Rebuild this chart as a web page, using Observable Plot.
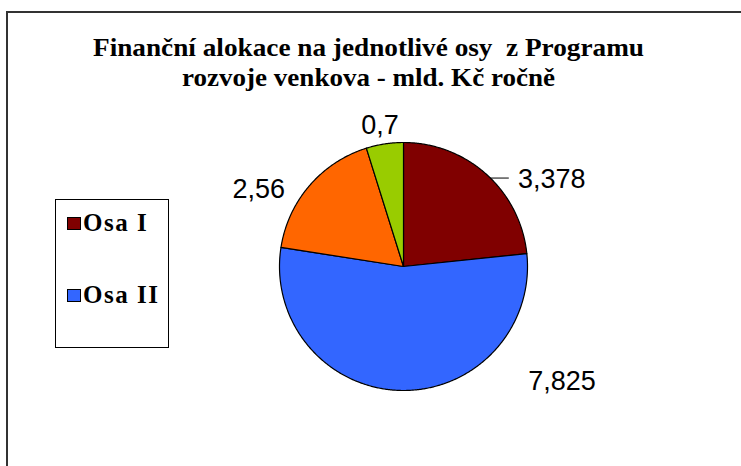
<!DOCTYPE html>
<html>
<head>
<meta charset="utf-8">
<script src="https://cdn.jsdelivr.net/npm/d3@7"></script>
<script src="https://cdn.jsdelivr.net/npm/@observablehq/plot@0.6"></script>
<style>
  html, body { margin: 0; padding: 0; background: #fff; overflow: hidden; }
  #wrap { position: relative; width: 741px; height: 466px; overflow: hidden; }
  #frame { position: absolute; left: 6px; top: 11px; width: 800px; height: 600px; border: 2px solid #333; box-sizing: border-box; }
  #chart { position: absolute; left: 0; top: 0; }
  #legend { position: absolute; left: 55px; top: 199px; width: 114px; height: 149px; border: 1.5px solid #000; box-sizing: border-box; background: #fff; }
  .item { position: absolute; left: 11px; display: flex; align-items: center; font-family: "Liberation Serif", "Times New Roman", serif; font-weight: bold; font-size: 25px; color: #000; letter-spacing: 1.5px; }
  .sw { width: 12px; height: 11px; border: 1px solid #000; margin-right: 2px; }
</style>
</head>
<body>
<div id="wrap">
  <div id="frame"></div>
  <div id="chart"></div>
  <div id="legend"></div>
</div>
<script>
// ---- data ----
const categories = ["Osa I", "Osa II", "Osa III", "Osa IV"];
const values = [3.378, 7.825, 2.56, 0.7];
const valueLabels = ["3,378", "7,825", "2,56", "0,7"];
const colors = ["#800000", "#3366FF", "#FF6600", "#99CC00"];
const legendShown = ["Osa I", "Osa II"];
const titleLines = ["Finanční alokace na jednotlivé osy  z Programu", "rozvoje venkova - mld. Kč ročně"];

// ---- layout ----
const W = 741, H = 466;
const cx = 403, cy = 266, R = 124;
const titleWidths = [551, 373];
// label placement (angle in degrees clockwise from top, distance from centre)
const labelPlace = [
  {angle: 59.5, dist: 172},
  {angle: 126, dist: 196},
  {angle: 298, dist: 164},
  {angle: 350.5, dist: 143}
];

const pie = d3.pie().sort(null).value(d => d)(values);
const pt = (deg, r) => ({x: cx + r * Math.sin(deg * Math.PI / 180), y: cy - r * Math.cos(deg * Math.PI / 180)});

const slices = pie.map((p, i) => {
  const a0 = p.startAngle * 180 / Math.PI, a1 = p.endAngle * 180 / Math.PI;
  const pts = [{x: cx, y: cy}];
  const n = Math.max(2, Math.ceil((a1 - a0) / 0.5));
  for (let k = 0; k <= n; k++) pts.push(pt(a0 + (a1 - a0) * k / n, R));
  pts.push({x: cx, y: cy});
  return {pts, color: colors[i], key: categories[i]};
});

const labels = values.map((v, i) => ({...pt(labelPlace[i].angle, labelPlace[i].dist), text: valueLabels[i]}));

// leader line for the first slice (from arc edge toward its label)
const firstMid = 44.5;
const leaderStart = pt(firstMid, R);
const leader = [leaderStart, {x: leaderStart.x + 18, y: leaderStart.y}];

const titleData = titleLines.map((t, i) => ({text: t, x: 368, y: 47 + i * 30}));

const plot = Plot.plot({
  width: W, height: H,
  margin: 0,
  x: {domain: [0, W], range: [0, W], axis: null},
  y: {domain: [0, H], range: [0, H], axis: null},
  style: {background: "transparent", overflow: "visible"},
  marks: [
    ...slices.map(s => Plot.line(s.pts, {x: "x", y: "y", fill: s.color, stroke: "#000", strokeWidth: 1.2, strokeLinejoin: "round", curve: "linear"})),
    Plot.line(leader, {x: "x", y: "y", stroke: "#000", strokeWidth: 1}),
    Plot.text(labels, {x: "x", y: "y", text: "text", fontSize: 27, fontFamily: "Liberation Sans", fill: "#000", textAnchor: "middle", lineAnchor: "middle"}),
    Plot.text(titleData, {x: "x", y: "y", text: "text", fontSize: 25, fontWeight: "bold", fontFamily: "Liberation Serif", fill: "#000", textAnchor: "middle", lineAnchor: "middle"})
  ]
});
document.getElementById("chart").appendChild(plot);
// title lines: serif font, fitted to the reference widths
d3.select(plot).selectAll("text").each(function() {
  const k = titleLines.indexOf(this.textContent);
  if (k >= 0) {
    this.style.fontFamily = "'Liberation Serif', 'Times New Roman', serif";
    this.style.fontWeight = "bold";
    this.setAttribute("textLength", titleWidths[k]);
    this.setAttribute("lengthAdjust", "spacingAndGlyphs");
  } else if (valueLabels.includes(this.textContent)) {
    this.style.fontFamily = "'Liberation Sans', Arial, sans-serif";
  }
});

// legend (only two visible entries as in the reference)
const legend = document.getElementById("legend");
legendShown.forEach((name, j) => {
  const i = categories.indexOf(name);
  const div = document.createElement("div");
  div.className = "item";
  div.style.top = (9 + j * 72) + "px";
  div.innerHTML = `<span class="sw" style="background:${colors[i]}"></span><span>${name}</span>`;
  legend.appendChild(div);
});
</script>
</body>
</html>
